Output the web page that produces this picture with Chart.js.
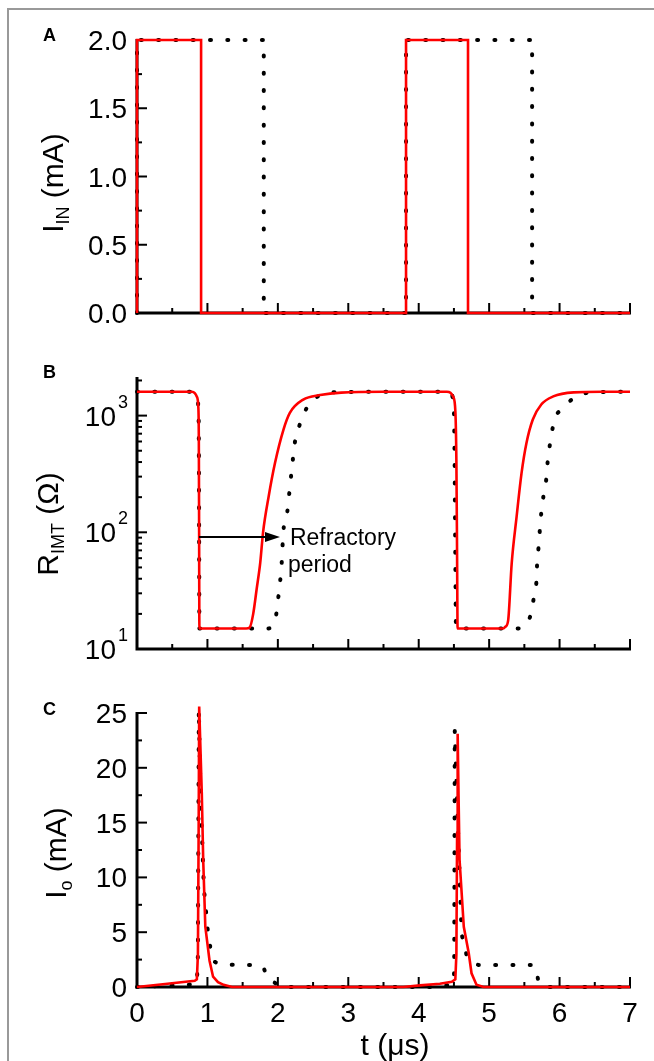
<!DOCTYPE html>
<html>
<head>
<meta charset="utf-8">
<script src="https://cdn.jsdelivr.net/npm/chart.js@4.4.1/dist/chart.umd.min.js"></script>
<style>
  body { margin: 0; background: #fff; }
  #wrap { position: relative; width: 654px; height: 1061px; overflow: hidden; }
  #frame { position: absolute; left: 7px; top: 8px; width: 700px; height: 1100px; border: 2px solid #999; }
  canvas { position: absolute; left: 0; }
</style>
</head>
<body>
<div id="wrap">
  <div id="frame"></div>
  <canvas id="cA" width="654" height="330" style="top:0"></canvas>
  <canvas id="cB" width="654" height="330" style="top:330px"></canvas>
  <canvas id="cC" width="654" height="401" style="top:660px"></canvas>
</div>
<script>
// ── time axis (µs) ────────────────────────────────────────────────────────
const T_MAJOR = [0, 1, 2, 3, 4, 5, 6, 7];
const T_MINOR = [0.5, 1.5, 2.5, 3.5, 4.5, 5.5, 6.5];

// ── A : input current I_IN (mA) ───────────────────────────────────────────
const tRedA = [0, 0, 0.91, 0.91, 3.82, 3.82, 4.70, 4.70, 7];
const iRedA = [0, 2, 2, 0, 0, 2, 2, 0, 0];
const tDotA = [0, 0, 1.80, 1.80, 3.82, 3.82, 5.61, 5.61, 7];
const iDotA = [0, 2, 2, 0, 0, 2, 2, 0, 0];
const IIN_MAJOR = [0, 0.5, 1, 1.5, 2];
const IIN_LABELS = ["0.0", "0.5", "1.0", "1.5", "2.0"];
const IIN_MINOR = [0.25, 0.75, 1.25, 1.75];

// ── B : R_IMT (Ω), log axis ───────────────────────────────────────────────
const tRedB = [0, 0.78, 0.82, 0.85, 0.87, 0.878, 0.882, 0.886, 1.2, 1.55, 1.6, 1.65, 1.7, 1.75, 1.79, 1.87, 1.96, 2.08,
  2.17, 2.36, 2.6, 2.9, 3.5, 4.40, 4.45, 4.49, 4.52, 4.535, 4.545, 4.552, 4.9, 5.2, 5.23, 5.27, 5.32, 5.39, 5.46, 5.53,
  5.62, 5.74, 5.91, 6.2, 6.6, 7];
const rRedB = [1600, 1600, 1560, 1450, 1200, 600, 100, 15, 15, 15, 15.3, 20, 33, 55, 100, 204, 394, 759,
  1055, 1371, 1500, 1575, 1600, 1600, 1570, 1450, 1100, 400, 60, 15, 15, 15, 15.5, 17.6, 54, 136, 321, 582,
  925, 1245, 1460, 1580, 1600, 1600];
const tDotB = [0, 0.78, 0.82, 0.85, 0.87, 0.878, 0.882, 0.886, 1.2, 1.865, 1.974, 2.007, 2.054, 2.077, 2.134, 2.162,
  2.21, 2.24, 2.31, 2.41, 2.62, 2.85, 3.5, 4.40, 4.45, 4.48, 4.50, 4.51, 4.52, 4.53, 4.8, 5.39, 5.58, 5.63, 5.67, 5.68,
  5.70, 5.72, 5.74, 5.77, 5.81, 5.83, 5.86, 5.90, 5.94, 6.01, 6.22, 6.45, 7];
const rDotB = [1600, 1600, 1560, 1450, 1200, 600, 100, 15, 15, 15, 19.4, 27.9, 54, 100, 150, 216,
  404, 582, 835, 1160, 1515, 1590, 1600, 1600, 1570, 1450, 1100, 400, 60, 15, 15, 15, 18.8, 26.5, 36.9, 52,
  72.8, 105, 146, 202, 282, 398, 552, 773, 975, 1104, 1436, 1580, 1600];
const R_MAJOR = [10, 100, 1000];
const R_EXP = ["1", "2", "3"];
const R_MINOR = [20, 30, 40, 50, 60, 70, 80, 90, 200, 300, 400, 500, 600, 700, 800, 900, 2000];
const ARROW_T = [0.88, 2.03];
const ARROW_R = 91;

// ── C : output current I_o (mA) ───────────────────────────────────────────
const tRedC = [0, 0.4, 0.82, 0.85, 0.865, 0.875, 0.883, 0.92, 0.94, 0.97, 1.03, 1.08, 1.15, 1.23, 1.35,
  3.78, 4.02, 4.3, 4.47, 4.52, 4.535, 4.545, 4.553, 4.565, 4.58, 4.64, 4.71, 4.75, 4.82, 4.92, 7];
const iRedC = [0, 0.28, 0.57, 0.7, 3, 14, 25.6, 17.7, 11.6, 5.5, 2.4, 0.94, 0.45, 0.2, 0,
  0, 0.15, 0.3, 0.48, 0.7, 3, 14, 23.1, 17.7, 11.6, 5.5, 3.1, 1.25, 0.2, 0, 0];
const tDotC = [0, 0.85, 0.865, 0.878, 0.9, 0.95, 1.01, 1.06, 1.1, 1.2, 1.75, 1.8, 1.84, 1.9, 1.98, 2.05,
  4.3, 4.5, 4.505, 4.512, 4.56, 4.61, 4.68, 4.75, 4.85, 5.63, 5.67, 5.70, 5.74, 5.8, 7];
const iDotC = [0, 0.25, 3, 25.3, 18, 9, 4.8, 2.9, 2.3, 2.05, 2.0, 1.7, 1.1, 0.6, 0.3, 0,
  0, 0.3, 3, 23.4, 14, 4.8, 2.9, 2.3, 2.0, 2.0, 1.5, 0.5, 0.15, 0, 0];
const IO_MAJOR = [0, 5, 10, 15, 20, 25];
const IO_MINOR = [2.5, 7.5, 12.5, 17.5, 22.5];

// ── styles ────────────────────────────────────────────────────────────────
const FONT = "'Liberation Sans', Arial, sans-serif";
const RED = "#ff0000";

const zip = (xs, ys) => xs.map((x, i) => ({ x, y: ys[i] }));

function line(ctx, x1, y1, x2, y2) {
  ctx.beginPath(); ctx.moveTo(x1, y1); ctx.lineTo(x2, y2); ctx.stroke();
}

// y title rotated, with subscript
function drawYTitle(ctx, bx, cy, main, sub, rest) {
  ctx.save();
  ctx.translate(bx, cy);
  ctx.rotate(-Math.PI / 2);
  ctx.fillStyle = "#000";
  ctx.textBaseline = "alphabetic";
  ctx.textAlign = "left";
  const big = "30px " + FONT, small = "18px " + FONT;
  ctx.font = big; const w1 = ctx.measureText(main).width, w3 = ctx.measureText(rest).width;
  ctx.font = small; const w2 = ctx.measureText(sub).width;
  let x = -(w1 + w2 + w3) / 2;
  ctx.font = big; ctx.fillText(main, x, 0); x += w1;
  ctx.font = small; ctx.fillText(sub, x, 6); x += w2;
  ctx.font = big; ctx.fillText(rest, x, 0);
  ctx.restore();
}

function panelPlugin(cfg) {
  return {
    id: "panel",
    beforeDatasetsDraw(chart) {
      const { ctx, chartArea: a, scales: { x, y } } = chart;
      ctx.save();
      ctx.strokeStyle = "#000";
      ctx.lineWidth = 3;
      ctx.beginPath();
      ctx.moveTo(a.left, a.top - 1); ctx.lineTo(a.left, a.bottom); ctx.lineTo(a.right + 1, a.bottom);
      ctx.stroke();
      ctx.lineWidth = 2;
      T_MAJOR.forEach(v => { const p = x.getPixelForValue(v); line(ctx, p, a.bottom, p, a.bottom - 10); });
      T_MINOR.forEach(v => { const p = x.getPixelForValue(v); line(ctx, p, a.bottom, p, a.bottom - 5); });
      cfg.yMajor.forEach(v => { const p = y.getPixelForValue(v); line(ctx, a.left, p, a.left + 10, p); });
      cfg.yMinor.forEach(v => { const p = y.getPixelForValue(v); line(ctx, a.left, p, a.left + 5, p); });
      ctx.restore();
    },
    afterDraw(chart) {
      const { ctx, chartArea: a, scales: { x, y } } = chart;
      ctx.save();
      ctx.fillStyle = "#000";
      // panel letter
      ctx.font = "bold 18px " + FONT;
      ctx.textAlign = "left";
      ctx.fillText(cfg.letter, 43, cfg.letterY);
      // y tick labels
      ctx.font = "28px " + FONT;
      if (cfg.log) {
        R_MAJOR.forEach((v, i) => {
          const p = y.getPixelForValue(v);
          ctx.font = "28px " + FONT; ctx.textAlign = "right";
          ctx.fillText("10", 116, p + 10);
          ctx.font = "18px " + FONT; ctx.textAlign = "left";
          ctx.fillText(R_EXP[i], 118, p - 8);
        });
      } else {
        ctx.textAlign = "right";
        cfg.yMajor.forEach((v, i) => {
          ctx.fillText(cfg.yLabels[i], a.left - 10, y.getPixelForValue(v) + 10);
        });
      }
      // x tick labels + title (bottom panel only)
      if (cfg.xLabels) {
        ctx.font = "28px " + FONT;
        ctx.textAlign = "center";
        T_MAJOR.forEach(v => ctx.fillText(String(v), x.getPixelForValue(v), a.bottom + 35));
        ctx.font = "30px " + FONT;
        ctx.fillText("t (\u03bcs)", 395, a.bottom + 68);
      }
      drawYTitle(ctx, cfg.titleX, cfg.titleY, cfg.title[0], cfg.title[1], cfg.title[2]);
      // annotation
      if (cfg.arrow) {
        const x1 = x.getPixelForValue(ARROW_T[0]), x2 = x.getPixelForValue(ARROW_T[1]);
        const yy = y.getPixelForValue(ARROW_R);
        ctx.strokeStyle = "#000"; ctx.lineWidth = 2;
        line(ctx, x1, yy, x2 - 12, yy);
        ctx.beginPath();
        ctx.moveTo(x2, yy); ctx.lineTo(x2 - 15, yy - 5); ctx.lineTo(x2 - 15, yy + 5); ctx.closePath();
        ctx.fill();
        ctx.font = "23px " + FONT; ctx.textAlign = "left";
        ctx.fillText("Refractory", x2 + 10, yy + 8);
        ctx.fillText("period", x2 + 8, yy + 35);
      }
      ctx.restore();
    }
  };
}

function makeChart(id, cfg) {
  return new Chart(document.getElementById(id), {
    type: "line",
    data: {
      datasets: [
        {
          data: zip(cfg.tRed, cfg.vRed),
          borderColor: RED, borderWidth: 2.6,
          pointRadius: 0, tension: 0, cubicInterpolationMode: cfg.mono ? "monotone" : "default",
          clip: false,
        },
        {
          data: zip(cfg.tDot, cfg.vDot),
          borderColor: "#000", borderWidth: 4,
          borderDash: [1, 16.3], borderCapStyle: "round",
          pointRadius: 0, tension: 0, cubicInterpolationMode: cfg.mono ? "monotone" : "default",
          clip: false,
        },
      ],
    },
    options: {
      responsive: false,
      animation: false,
      events: [],
      layout: { padding: { top: cfg.top, right: 24, left: 0, bottom: 0 } },
      plugins: { legend: { display: false }, tooltip: { enabled: false } },
      scales: {
        x: {
          type: "linear", min: 0, max: 7,
          ticks: { display: false }, grid: { display: false }, border: { display: false },
          afterFit: (s) => { s.height = cfg.xh; },
        },
        y: {
          type: cfg.log ? "logarithmic" : "linear", min: cfg.ymin, max: cfg.ymax,
          ticks: { display: false }, grid: { display: false }, border: { display: false },
          afterFit: (s) => { s.width = 137; },
        },
      },
    },
    plugins: [panelPlugin(cfg)],
  });
}

makeChart("cA", {
  tRed: tRedA, vRed: iRedA, tDot: tDotA, vDot: iDotA,
  top: 40, xh: 17, ymin: 0, ymax: 2,
  yMajor: IIN_MAJOR, yMinor: IIN_MINOR, yLabels: IIN_LABELS,
  letter: "A", letterY: 41,
  title: ["I", "IN", " (mA)"], titleX: 63, titleY: 183,
});

makeChart("cB", {
  tRed: tRedB, vRed: rRedB, tDot: tDotB, vDot: rDotB, mono: true,
  top: 48, xh: 11, ymin: 10, ymax: 2100, log: true,
  yMajor: R_MAJOR, yMinor: R_MINOR,
  letter: "B", letterY: 48,
  title: ["R", "IMT", " (\u03a9)"], titleX: 58, titleY: 194,
  arrow: true,
});

makeChart("cC", {
  tRed: tRedC, vRed: iRedC, tDot: tDotC, vDot: iDotC,
  top: 53, xh: 74, ymin: 0, ymax: 25,
  yMajor: IO_MAJOR, yMinor: IO_MINOR, yLabels: IO_MAJOR.map(String),
  letter: "C", letterY: 55,
  title: ["I", "o", " (mA)"], titleX: 66, titleY: 193,
  xLabels: true,
});
</script>
</body>
</html>
